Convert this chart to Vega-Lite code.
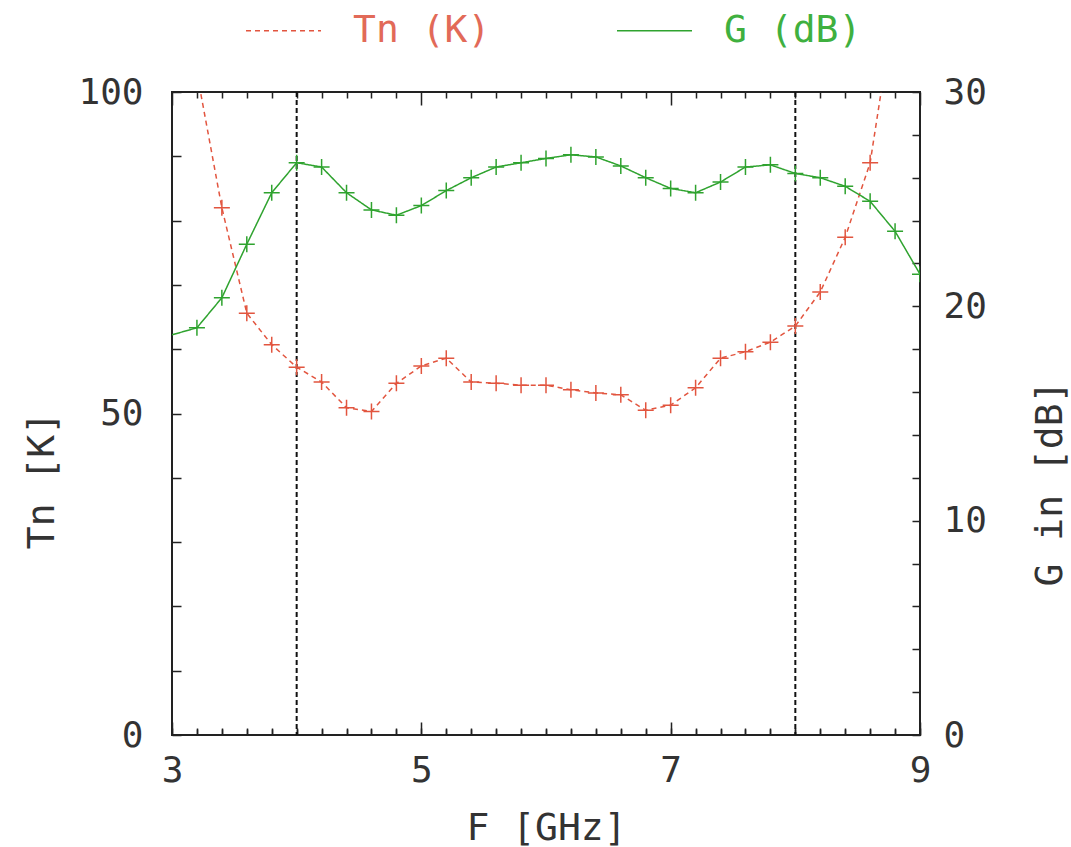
{
  "$schema": "https://vega.github.io/schema/vega-lite/v6.json",
  "width": 748,
  "height": 643,
  "autosize": {"type": "none"},
  "padding": {"left": 172, "top": 92, "right": 151, "bottom": 112},
  "background": "white",
  "config": {
    "view": {"stroke": "#222", "strokeWidth": 2},
    "font": "DejaVu Sans Mono",
    "axis": {
      "domain": false,
      "grid": false,
      "labelFont": "DejaVu Sans Mono",
      "labelFontSize": 36,
      "labelColor": "#333",
      "labelFontWeight": "normal",
      "titleFont": "DejaVu Sans Mono",
      "titleFontSize": 38,
      "titleFontWeight": "normal",
      "titleColor": "#333",
      "tickColor": "#222",
      "tickWidth": 1.5,
      "labelFlush": false,
      "labelOverlap": false
    }
  },
  "datasets": {
    "curves": [
      {"F": 3.0, "series": "Tn (K)", "value": 140},
      {"F": 3.2, "series": "Tn (K)", "value": 103},
      {"F": 3.4, "series": "Tn (K)", "value": 82},
      {"F": 3.6, "series": "Tn (K)", "value": 65.6},
      {"F": 3.8, "series": "Tn (K)", "value": 60.7},
      {"F": 4.0, "series": "Tn (K)", "value": 57.2},
      {"F": 4.2, "series": "Tn (K)", "value": 54.9},
      {"F": 4.4, "series": "Tn (K)", "value": 50.9},
      {"F": 4.6, "series": "Tn (K)", "value": 50.3},
      {"F": 4.8, "series": "Tn (K)", "value": 54.7},
      {"F": 5.0, "series": "Tn (K)", "value": 57.4},
      {"F": 5.2, "series": "Tn (K)", "value": 58.6},
      {"F": 5.4, "series": "Tn (K)", "value": 54.9},
      {"F": 5.6, "series": "Tn (K)", "value": 54.7},
      {"F": 5.8, "series": "Tn (K)", "value": 54.4},
      {"F": 6.0, "series": "Tn (K)", "value": 54.4},
      {"F": 6.2, "series": "Tn (K)", "value": 53.7},
      {"F": 6.4, "series": "Tn (K)", "value": 53.2},
      {"F": 6.6, "series": "Tn (K)", "value": 52.9},
      {"F": 6.8, "series": "Tn (K)", "value": 50.5},
      {"F": 7.0, "series": "Tn (K)", "value": 51.3},
      {"F": 7.2, "series": "Tn (K)", "value": 54.0},
      {"F": 7.4, "series": "Tn (K)", "value": 58.6},
      {"F": 7.6, "series": "Tn (K)", "value": 59.6},
      {"F": 7.8, "series": "Tn (K)", "value": 61.1},
      {"F": 8.0, "series": "Tn (K)", "value": 63.6},
      {"F": 8.2, "series": "Tn (K)", "value": 68.9},
      {"F": 8.4, "series": "Tn (K)", "value": 77.4},
      {"F": 8.6, "series": "Tn (K)", "value": 89.0},
      {"F": 8.8, "series": "Tn (K)", "value": 114},
      {"F": 9.0, "series": "Tn (K)", "value": 160},
      {"F": 3.0, "series": "G (dB)", "value": 18.67},
      {"F": 3.2, "series": "G (dB)", "value": 19.0},
      {"F": 3.4, "series": "G (dB)", "value": 20.4},
      {"F": 3.6, "series": "G (dB)", "value": 22.9},
      {"F": 3.8, "series": "G (dB)", "value": 25.3},
      {"F": 4.0, "series": "G (dB)", "value": 26.7},
      {"F": 4.2, "series": "G (dB)", "value": 26.5},
      {"F": 4.4, "series": "G (dB)", "value": 25.3},
      {"F": 4.6, "series": "G (dB)", "value": 24.5},
      {"F": 4.8, "series": "G (dB)", "value": 24.25},
      {"F": 5.0, "series": "G (dB)", "value": 24.7},
      {"F": 5.2, "series": "G (dB)", "value": 25.4},
      {"F": 5.4, "series": "G (dB)", "value": 26.0},
      {"F": 5.6, "series": "G (dB)", "value": 26.5},
      {"F": 5.8, "series": "G (dB)", "value": 26.7},
      {"F": 6.0, "series": "G (dB)", "value": 26.9},
      {"F": 6.2, "series": "G (dB)", "value": 27.07},
      {"F": 6.4, "series": "G (dB)", "value": 26.97},
      {"F": 6.6, "series": "G (dB)", "value": 26.55},
      {"F": 6.8, "series": "G (dB)", "value": 26.0},
      {"F": 7.0, "series": "G (dB)", "value": 25.5},
      {"F": 7.2, "series": "G (dB)", "value": 25.3},
      {"F": 7.4, "series": "G (dB)", "value": 25.8},
      {"F": 7.6, "series": "G (dB)", "value": 26.5},
      {"F": 7.8, "series": "G (dB)", "value": 26.6},
      {"F": 8.0, "series": "G (dB)", "value": 26.2},
      {"F": 8.2, "series": "G (dB)", "value": 26.0},
      {"F": 8.4, "series": "G (dB)", "value": 25.6},
      {"F": 8.6, "series": "G (dB)", "value": 24.9},
      {"F": 8.8, "series": "G (dB)", "value": 23.5},
      {"F": 9.0, "series": "G (dB)", "value": 21.5}
    ],
    "bands": [{"F": 4}, {"F": 8}]
  },
  "encoding": {
    "x": {
      "field": "F", "type": "quantitative",
      "scale": {"domain": [3, 9], "nice": false, "zero": false},
      "axis": {
        "orient": "bottom",
        "title": "F [GHz]",
        "tickCount": 100,
        "values": [3,3.2,3.4,3.6,3.8,4,4.2,4.4,4.6,4.8,5,5.2,5.4,5.6,5.8,6,6.2,6.4,6.6,6.8,7,7.2,7.4,7.6,7.8,8,8.2,8.4,8.6,8.8,9],
        "labelExpr": "indexof([3,5,7,9], datum.value) >= 0 ? '' + datum.value : ''",
        "ticks": true,
        "tickSize": -7,
        "grid": true,
        "gridColor": "#222",
        "gridWidth": 1.5,
        "gridDash": {"condition": {"test": "indexof([3,5,7,9], datum.value) >= 0", "value": [13, 617, 13]}, "value": [6, 631, 6]},
        "labelPadding": 25,
        "titleY": 93,
        "titleBaseline": "middle"
      }
    }
  },
  "layer": [
    {
      "data": {"name": "bands"},
      "mark": {"type": "rule", "color": "#111", "strokeWidth": 2, "strokeDash": [5, 3]}
    },
    {
      "data": {"name": "curves"},
      "transform": [{"filter": "datum.series === 'Tn (K)'"}],
      "encoding": {
        "y": {
          "field": "value", "type": "quantitative",
          "scale": {"domain": [0, 100], "nice": false, "zero": false},
          "axis": {
            "orient": "left",
            "title": "Tn [K]",
            "tickCount": 100,
            "values": [0,10,20,30,40,50,60,70,80,90,100],
            "labelExpr": "indexof([0,50,100], datum.value) >= 0 ? '' + datum.value : ''",
            "tickSize": -9,
            "labelPadding": 38,
            "titleAngle": 270,
            "titleX": -130,
            "titleY": 388,
            "titleAlign": "center",
            "titleBaseline": "middle"
          }
        },
        "color": {
          "field": "series", "type": "nominal",
          "scale": {"domain": ["Tn (K)", "G (dB)"], "range": ["#e2553f", "#2fa32f"]},
          "legend": {
            "title": null,
            "orient": "none",
            "direction": "horizontal",
            "columns": 2,
            "legendX": 73,
            "legendY": -100,
            "symbolType": "stroke",
            "symbolSize": 5625,
            "symbolStrokeWidth": 1.5,
            "labelFont": "DejaVu Sans Mono",
            "labelFontSize": 38,
            "labelOffset": 31,
            "columnPadding": 123,
            "labelLimit": 400,
            "padding": 0,
            "encode": {"labels": {"update": {"fill": {"signal": "datum.value === 'Tn (K)' ? '#e26a58' : '#3fb03f'"}}}}
          }
        }
      },
      "layer": [
        {
          "mark": {"type": "line", "strokeWidth": 1.5, "interpolate": "linear", "clip": true},
          "encoding": {
            "strokeDash": {
              "field": "series", "type": "nominal",
              "scale": {"domain": ["Tn (K)", "G (dB)"], "range": [[5, 4], [1, 0]]},
              "legend": null
            }
          }
        },
        {
          "mark": {"type": "point", "shape": "M-1,0H1M0,-1V1", "size": 256, "filled": false, "strokeWidth": 1.5, "opacity": 1, "clip": true}
        }
      ]
    },
    {
      "data": {"name": "curves"},
      "transform": [{"filter": "datum.series === 'G (dB)'"}],
      "encoding": {
        "y": {
          "field": "value", "type": "quantitative",
          "scale": {"domain": [0, 30], "nice": false, "zero": false},
          "axis": {
            "orient": "right",
            "title": "G in [dB]",
            "tickCount": 100,
            "values": [0,2,4,6,8,10,12,14,16,18,20,22,24,26,28,30],
            "labelExpr": "indexof([0,10,20,30], datum.value) >= 0 ? '' + datum.value : ''",
            "tickSize": -8,
            "labelPadding": 31,
            "titleAngle": 270,
            "titleX": 130,
            "titleY": 391,
            "titleAlign": "center",
            "titleBaseline": "middle"
          }
        },
        "color": {
          "field": "series", "type": "nominal",
          "scale": {"domain": ["Tn (K)", "G (dB)"], "range": ["#e2553f", "#2fa32f"]}
        }
      },
      "layer": [
        {
          "mark": {"type": "line", "strokeWidth": 1.5, "interpolate": "linear", "clip": true},
          "encoding": {
            "strokeDash": {
              "field": "series", "type": "nominal",
              "scale": {"domain": ["Tn (K)", "G (dB)"], "range": [[5, 4], [1, 0]]},
              "legend": null
            }
          }
        },
        {
          "transform": [{"filter": "datum.F > 3.05"}],
          "mark": {"type": "point", "shape": "M-1,0H1M0,-1V1", "size": 256, "filled": false, "strokeWidth": 1.5, "opacity": 1, "clip": true}
        }
      ]
    }
  ],
  "resolve": {"scale": {"y": "independent"}, "axis": {"y": "independent"}}
}
